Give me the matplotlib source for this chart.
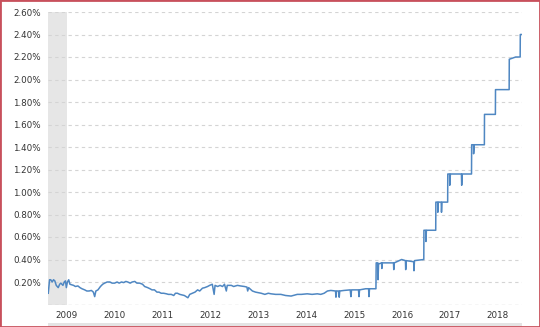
import matplotlib
matplotlib.use('Agg')
from matplotlib import pyplot as plt
from matplotlib.patches import Rectangle
import pandas as pd

# rate readings (percent)
dates = [
    '2009-02-10', '2009-02-20', '2009-03-01', '2009-03-12', '2009-03-22', '2009-04-01',
    '2009-04-12', '2009-04-27', '2009-05-08', '2009-05-17', '2009-06-02', '2009-06-12',
    '2009-06-21', '2009-06-28', '2009-07-06', '2009-07-16', '2009-07-25', '2009-08-07',
    '2009-08-22', '2009-09-05', '2009-09-24', '2009-10-10', '2009-10-25', '2009-11-15',
    '2009-12-01', '2009-12-18', '2010-01-05', '2010-01-20', '2010-01-30', '2010-02-08',
    '2010-02-24', '2010-03-15', '2010-04-01', '2010-04-16', '2010-05-05', '2010-05-26',
    '2010-06-12', '2010-07-01', '2010-07-20', '2010-08-05', '2010-08-22', '2010-09-08',
    '2010-09-25', '2010-10-09', '2010-10-28', '2010-11-12', '2010-12-02', '2010-12-18',
    '2011-01-08', '2011-01-30', '2011-02-15', '2011-03-10', '2011-03-28', '2011-04-12',
    '2011-05-01', '2011-05-20', '2011-06-05', '2011-06-21', '2011-07-10', '2011-07-31',
    '2011-08-15', '2011-09-06', '2011-09-25', '2011-10-08', '2011-10-23', '2011-11-10',
    '2011-11-28', '2011-12-15', '2012-01-11', '2012-01-25', '2012-02-15', '2012-03-05',
    '2012-03-25', '2012-04-10', '2012-05-01', '2012-05-18', '2012-06-09', '2012-06-25',
    '2012-07-15', '2012-07-29', '2012-08-05', '2012-08-25', '2012-09-12', '2012-10-01',
    '2012-10-16', '2012-10-30', '2012-11-06', '2012-12-07', '2012-12-25', '2013-01-23',
    '2013-02-15', '2013-03-17', '2013-04-05', '2013-04-11', '2013-04-18', '2013-05-17',
    '2013-06-10', '2013-07-23', '2013-08-20', '2013-09-15', '2013-10-06', '2013-11-10',
    '2013-12-20', '2014-01-25', '2014-03-08', '2014-04-24', '2014-05-25', '2014-07-09',
    '2014-08-15', '2014-09-24', '2014-10-20', '2014-11-15', '2014-12-10', '2015-01-05',
    '2015-02-10', '2015-02-13', '2015-02-18', '2015-03-07', '2015-03-10', '2015-03-14',
    '2015-04-16', '2015-06-02', '2015-06-07', '2015-06-12', '2015-07-24', '2015-08-04',
    '2015-08-08', '2015-08-12', '2015-09-28', '2015-10-20', '2015-10-23', '2015-10-27',
    '2015-12-15', '2015-12-17', '2015-12-30', '2015-12-31', '2016-01-04', '2016-01-27',
    '2016-01-29', '2016-02-02', '2016-04-27', '2016-04-29', '2016-05-03', '2016-06-28',
    '2016-07-27', '2016-07-29', '2016-08-02', '2016-09-28', '2016-09-30', '2016-10-04',
    '2016-12-14', '2016-12-15', '2016-12-29', '2016-12-30', '2017-01-03', '2017-03-15',
    '2017-03-16', '2017-03-30', '2017-03-31', '2017-04-04', '2017-04-26', '2017-04-28',
    '2017-05-02', '2017-06-14', '2017-06-15', '2017-06-29', '2017-06-30', '2017-07-05',
    '2017-09-27', '2017-09-29', '2017-10-03', '2017-12-13', '2017-12-14', '2017-12-28',
    '2017-12-29', '2018-01-03', '2018-03-21', '2018-03-22', '2018-06-13', '2018-06-14',
    '2018-09-26', '2018-09-27', '2018-11-15', '2018-12-19', '2018-12-20', '2018-12-28',
]
rates = [
    0.10, 0.22, 0.22, 0.20, 0.22, 0.21,
    0.17, 0.15, 0.18, 0.19, 0.17, 0.20,
    0.21, 0.15, 0.20, 0.22, 0.18, 0.175,
    0.17, 0.16, 0.165, 0.15, 0.14, 0.13,
    0.12, 0.12, 0.125, 0.11, 0.07, 0.12,
    0.13, 0.16, 0.18, 0.19, 0.20, 0.20,
    0.19, 0.19, 0.20, 0.19, 0.20, 0.195,
    0.205, 0.20, 0.19, 0.20, 0.205, 0.19,
    0.19, 0.18, 0.16, 0.15, 0.14, 0.13,
    0.13, 0.11, 0.11, 0.10, 0.10, 0.095,
    0.09, 0.09, 0.08, 0.10, 0.10, 0.09,
    0.085, 0.08, 0.06, 0.09, 0.10, 0.11,
    0.13, 0.12, 0.145, 0.15, 0.16, 0.17,
    0.18, 0.09, 0.17, 0.16, 0.17, 0.16,
    0.18, 0.12, 0.17, 0.17, 0.16, 0.17,
    0.165, 0.16, 0.155, 0.12, 0.15, 0.12,
    0.11, 0.10, 0.09, 0.10, 0.095, 0.09,
    0.09, 0.08, 0.075, 0.09, 0.09, 0.095,
    0.09, 0.095, 0.09, 0.10, 0.12, 0.125,
    0.12, 0.065, 0.12, 0.12, 0.065, 0.12,
    0.125, 0.13, 0.07, 0.13, 0.13, 0.13,
    0.07, 0.13, 0.14, 0.14, 0.07, 0.14,
    0.14, 0.37, 0.37, 0.22, 0.36, 0.37,
    0.32, 0.37, 0.37, 0.31, 0.37, 0.40,
    0.39, 0.31, 0.39, 0.38, 0.30, 0.39,
    0.40, 0.66, 0.66, 0.56, 0.66, 0.66,
    0.91, 0.91, 0.82, 0.91, 0.91, 0.82,
    0.91, 0.91, 1.16, 1.16, 1.06, 1.16,
    1.16, 1.06, 1.16, 1.16, 1.42, 1.42,
    1.34, 1.42, 1.42, 1.69, 1.69, 1.91,
    1.91, 2.18, 2.20, 2.20, 2.40, 2.40,
]
recession_end = '2009-06-30'
year_labels = [str(y) for y in range(2009, 2019)]
y_ticks = [0.0, 0.2, 0.4, 0.6, 0.8, 1.0, 1.2, 1.4, 1.6, 1.8, 2.0, 2.2, 2.4, 2.6]

x = pd.to_datetime(dates)

fig = plt.figure(figsize=(5.4, 3.27), dpi=100)
ax = fig.add_axes([48 / 540, 1 - 304.5 / 327, 474 / 540, 292.5 / 327])

x_start = pd.Timestamp('2009-02-08')
x_end = pd.Timestamp('2019-01-02')
ax.axvspan(x_start, pd.Timestamp(recession_end), color='#e6e6e6', lw=0, zorder=0)
ax.plot(x, rates, color='#4f87c2', lw=1.1, zorder=3)

ax.set_xlim(x_start, x_end)
ax.set_ylim(0, 2.6)

ax.set_yticks(y_ticks)
ax.set_yticklabels([''] + ['%.2f%%' % v for v in y_ticks[1:]])
ax.set_xticks([pd.Timestamp('%s-07-01' % y) for y in year_labels])
ax.set_xticklabels(year_labels)
ax.tick_params(length=0, labelsize=6.3, labelcolor='#333333', pad=5)

ax.grid(axis='y', color='#d4d4d4', lw=0.8, ls=(0, (3, 3)))
ax.axhline(0, color='#999999', lw=0.8, ls=(0, (3, 3)), zorder=2)
for s in ax.spines.values():
    s.set_visible(False)

# scrollbar strip and red border
fig.patches.append(Rectangle((48 / 540, 0), 474 / 540, 4 / 327, transform=fig.transFigure,
                             facecolor='#e4e4e4', edgecolor='none'))
fig.patches.append(Rectangle((0, 0), 1, 1, transform=fig.transFigure, fill=False,
                             edgecolor='#c8505c', lw=2))

fig.savefig('out.png', dpi=100)
